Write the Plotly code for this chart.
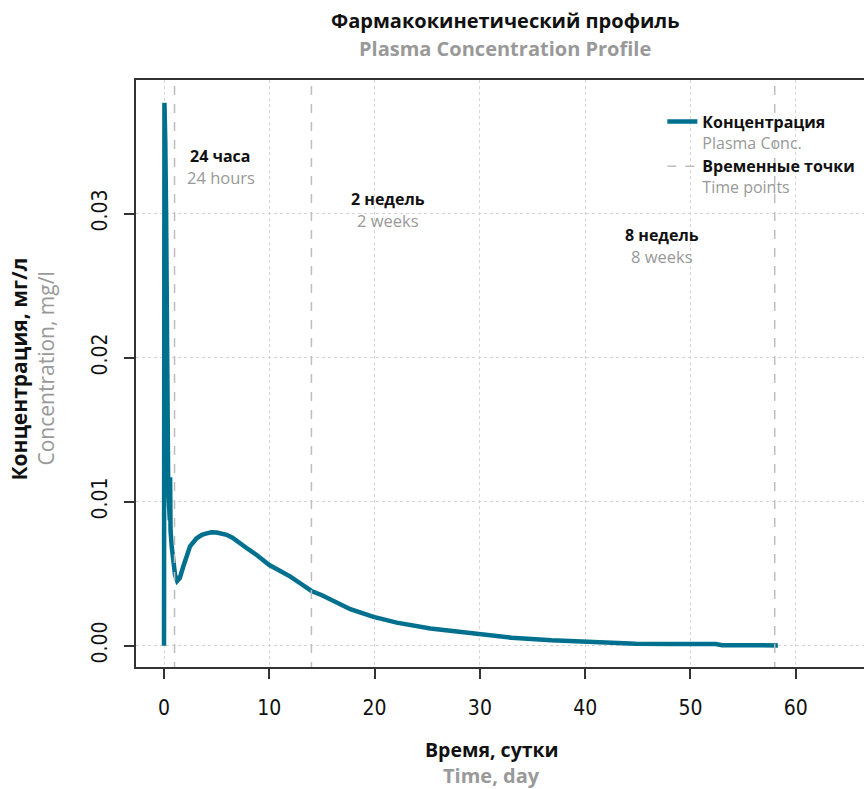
import plotly.graph_objects as go

# ---- data ----
time_days = [0, 0.04, 0.08, 0.12, 0.2, 0.3, 0.4, 0.55, 0.58, 0.62, 0.73, 0.88, 1.05, 1.25,
             1.5, 1.83, 2.15, 2.47, 3.1, 3.6, 4.05, 4.5, 5.0, 5.5, 5.95, 6.5, 7.2, 8.0, 8.8,
             10.0, 11.0, 12.0, 13.0, 14.0, 15.0, 15.8, 17.7, 19.9, 22.1, 25.3, 28.0,
             30.1, 33.0, 36.8, 41.3, 44.8, 48.0, 52.4, 53.0, 58.3]
conc_mg_l = [0.0, 0.0377, 0.0374, 0.0351, 0.0300, 0.0200, 0.0110, 0.0087, 0.0117, 0.0080,
             0.0069, 0.0056, 0.0049, 0.0045, 0.0047, 0.0055, 0.0062, 0.0069, 0.00746,
             0.0077, 0.0078, 0.00788, 0.00786, 0.0078, 0.0077, 0.0075, 0.0071, 0.0067,
             0.0063, 0.0056, 0.0052, 0.0048, 0.0043, 0.0038, 0.0035, 0.0032, 0.00253,
             0.0020, 0.0016, 0.0012, 0.00095, 0.00075, 0.00055, 0.00037, 0.00022,
             0.00014, 0.00012, 0.00011, 0.00003, 0.00002]
time_points = [1, 14, 58]
time_point_labels_ru = ["24 часа", "2 недель", "8 недель"]
time_point_labels_en = ["24 hours", "2 weeks", "8 weeks"]
label_x = [5.4, 21.3, 47.3]
label_y = [0.0340, 0.0310, 0.0285]

x_ticks = [0, 10, 20, 30, 40, 50, 60]
y_ticks = [0.00, 0.01, 0.02, 0.03]
y_tick_text = ["0.00", "0.01", "0.02", "0.03"]

X_RANGE = [-2.66, 66.48]
Y_RANGE = [-0.00148, 0.03928]

TEAL = "#00708f"
GRAY_TXT = "#999999"
DASH_GRAY = "#bdbdbd"
FONT = "Open Sans"
TICKFONT = "Liberation Sans Narrow, DejaVu Sans Condensed, Liberation Sans, Arial"

fig = go.Figure()

fig.add_trace(go.Scatter(
    x=time_days, y=conc_mg_l, mode="lines",
    line=dict(color=TEAL, width=4.5),
    name="<b>Концентрация</b><br><span style='color:%s'>Plasma Conc.</span>" % GRAY_TXT,
))

vx, vy = [], []
for t in time_points:
    vx += [t, t, None]
    vy += [Y_RANGE[0] - 1, Y_RANGE[1] + 1, None]
fig.add_trace(go.Scatter(
    x=vx, y=vy, mode="lines",
    line=dict(color=DASH_GRAY, width=1.5, dash="dash"),
    name="<b>Временные точки</b><br><span style='color:%s'>Time points</span>" % GRAY_TXT,
))

annotations = []
for tx, ty, ru, en in zip(label_x, label_y, time_point_labels_ru, time_point_labels_en):
    annotations.append(dict(x=tx, y=ty, xref="x", yref="y", text="<b>%s</b>" % ru,
                            showarrow=False, font=dict(family=FONT, size=16, color="#111"),
                            xanchor="center", yanchor="middle"))
    annotations.append(dict(x=tx, y=ty - 0.00148, xref="x", yref="y", text=en,
                            showarrow=False, font=dict(family=FONT, size=16.5, color=GRAY_TXT),
                            xanchor="center", yanchor="middle"))

# titles
annotations += [
    dict(x=0.507, y=1.102, xref="paper", yref="paper", text="<b>Фармакокинетический профиль</b>",
         showarrow=False, font=dict(family=FONT, size=20, color="#111"), xanchor="center", yanchor="middle"),
    dict(x=0.507, y=1.0545, xref="paper", yref="paper", text="<b>Plasma Concentration Profile</b>",
         showarrow=False, font=dict(family=FONT, size=20, color=GRAY_TXT), xanchor="center", yanchor="middle"),
    dict(x=0.489, y=-0.1397, xref="paper", yref="paper", text="<b>Время, сутки</b>",
         showarrow=False, font=dict(family=FONT, size=19.5, color="#111"), xanchor="center", yanchor="middle"),
    dict(x=0.489, y=-0.184, xref="paper", yref="paper", text="<b>Time, day</b>",
         showarrow=False, font=dict(family=FONT, size=20, color=GRAY_TXT), xanchor="center", yanchor="middle"),
    dict(x=-0.161, y=0.508, xref="paper", yref="paper", text="<b>Концентрация, мг/л</b>",
         showarrow=False, textangle=-90, font=dict(family=FONT, size=21, color="#111"),
         xanchor="center", yanchor="middle"),
    dict(x=-0.124, y=0.508, xref="paper", yref="paper", text="Concentration, mg/l",
         showarrow=False, textangle=-90, font=dict(family=FONT, size=21, color=GRAY_TXT),
         xanchor="center", yanchor="middle"),
]

fig.update_layout(
    width=864, height=789,
    margin=dict(l=136, r=0, t=80, b=122),
    paper_bgcolor="white", plot_bgcolor="white",
    showlegend=True,
    legend=dict(x=0.723, y=0.958, xanchor="left", yanchor="top", valign="top",
                bgcolor="rgba(0,0,0,0)", font=dict(family=FONT, size=16, color="#111"),
                tracegroupgap=0, itemwidth=30),
    annotations=annotations,
)

fig.update_xaxes(
    range=X_RANGE, tickvals=x_ticks, ticktext=[str(v) for v in x_ticks],
    showline=True, linecolor="#333", linewidth=2, mirror=True,
    ticks="outside", ticklen=10, tickwidth=2, tickcolor="#333",
    tickfont=dict(family=TICKFONT, size=21, color="#111"),
    showgrid=True, gridcolor="#d6d6d6", gridwidth=1, griddash="dot",
    zeroline=False, ticklabelstandoff=11,
)
fig.update_yaxes(
    range=Y_RANGE, tickvals=y_ticks, ticktext=y_tick_text, tickangle=-90,
    showline=True, linecolor="#333", linewidth=2, mirror=False,
    ticks="outside", ticklen=10, tickwidth=2, tickcolor="#333",
    tickfont=dict(family=TICKFONT, size=21, color="#111"),
    showgrid=True, gridcolor="#d6d6d6", gridwidth=1, griddash="dot",
    zeroline=False, ticklabelstandoff=9,
)

fig.write_html("out.html", config={"displayModeBar": False},
               post_script="document.body.style.margin='0';")
